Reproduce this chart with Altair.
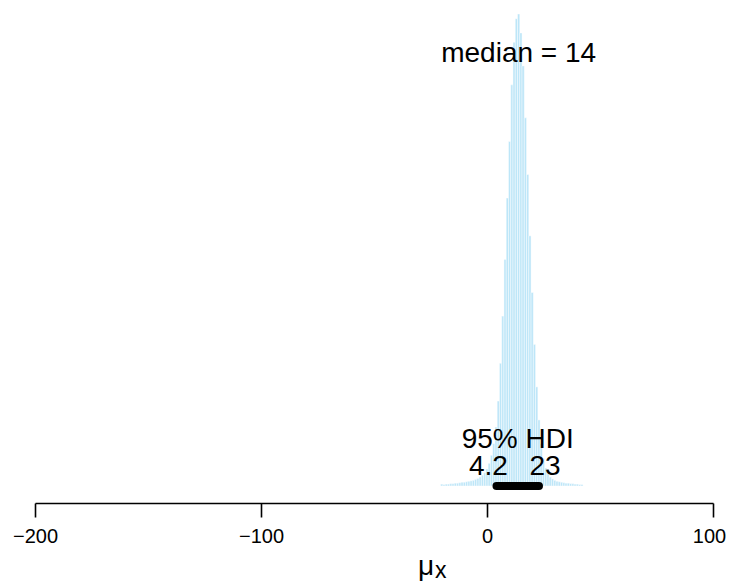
import altair as alt
import pandas as pd

# Histogram bins (centers, width 1) and relative heights
bin_centers = list(range(-20, 43))
heights = [0.004, 0.003, 0.004, 0.004, 0.005, 0.005, 0.006, 0.006, 0.007, 0.008,
           0.008, 0.009, 0.010, 0.011, 0.012, 0.014, 0.016, 0.019, 0.023, 0.028,
           0.036, 0.048, 0.065, 0.090, 0.125, 0.18, 0.26, 0.36, 0.48, 0.61,
           0.73, 0.85, 0.94, 0.99, 1.0, 0.96, 0.89, 0.78, 0.66, 0.53,
           0.41, 0.30, 0.21, 0.14, 0.09, 0.058, 0.038, 0.026, 0.019, 0.015,
           0.012, 0.010, 0.009, 0.008, 0.007, 0.006, 0.006, 0.005, 0.005, 0.004,
           0.004, 0.003, 0.003]
bin_width = 1.0
hdi = [4.2, 23]
median = 14
x_ticks = [-200, -100, 0, 100]

hist = pd.DataFrame({
    "lo": [c - bin_width / 2 for c in bin_centers],
    "hi": [c + bin_width / 2 for c in bin_centers],
    "h": heights,
})

xs = alt.Scale(domain=[-200, 100], nice=False, zero=False)
ys = alt.Scale(domain=[0, 1.0], nice=False, zero=False)

bars = alt.Chart(hist).mark_rect(fill="#bde6f8", stroke="white", strokeWidth=0.45).encode(
    x=alt.X("lo:Q", scale=xs, axis=alt.Axis(
        values=x_ticks, title=None, domainColor="black", domainWidth=1.6,
        tickColor="black", tickWidth=1.6, tickSize=14, labelFontSize=20,
        labelColor="black", labelFont="Liberation Sans", labelPadding=9,
        labelOffset={"condition": {"test": "datum.value == 100", "value": -4}, "value": 0},
        offset=17, grid=False, labelFlush=False)),
    x2="hi:Q",
    y=alt.Y("h:Q", scale=ys, axis=None),
    y2=alt.datum(0),
)

hdi_df = pd.DataFrame({"a": [hdi[0]], "b": [hdi[1]]})
hdi_bar = alt.Chart(hdi_df).mark_rule(color="black", strokeWidth=8, strokeCap="round").encode(
    x=alt.X("a:Q", scale=xs), x2="b:Q", y=alt.datum(0, scale=ys)
)

def label(text, xval, yval, dx=0, size=28):
    return alt.Chart(pd.DataFrame({"t": [text]})).mark_text(
        font="Liberation Sans", fontSize=size, color="black", baseline="alphabetic",
        align="center", dx=dx
    ).encode(x=alt.datum(xval, scale=xs), y=alt.datum(yval, scale=ys), text="t:N")

med_txt = label(f"median = {median}", median, 0.898)
hdi_txt = label("95% HDI", (hdi[0] + hdi[1]) / 2, 0.0805)
lo_txt = label(f"{hdi[0]}", hdi[0], 0.0233, dx=-8)
hi_txt = label(f"{hdi[1]}", hdi[1], 0.0233, dx=6)

mu_txt = alt.Chart(pd.DataFrame({"t": ["μ"]})).mark_text(
    font="Liberation Sans", fontSize=28, color="black", baseline="alphabetic", align="center"
).encode(x=alt.value(391), y=alt.value(561), text="t:N")
sub_txt = alt.Chart(pd.DataFrame({"t": ["x"]})).mark_text(
    font="Liberation Sans", fontSize=23, color="black", baseline="alphabetic", align="left"
).encode(x=alt.value(400), y=alt.value(564), text="t:N")

chart = alt.layer(bars, hdi_bar, med_txt, hdi_txt, lo_txt, hi_txt, mu_txt, sub_txt).properties(
    width=678, height=472, background="white",
    padding={"left": 27, "top": 6, "right": 13, "bottom": 96},
    autosize=alt.AutoSizeParams(type="none"),
).configure_view(stroke=None, strokeWidth=0)

chart.save("out.html", embed_options={"renderer": "svg", "actions": False})
